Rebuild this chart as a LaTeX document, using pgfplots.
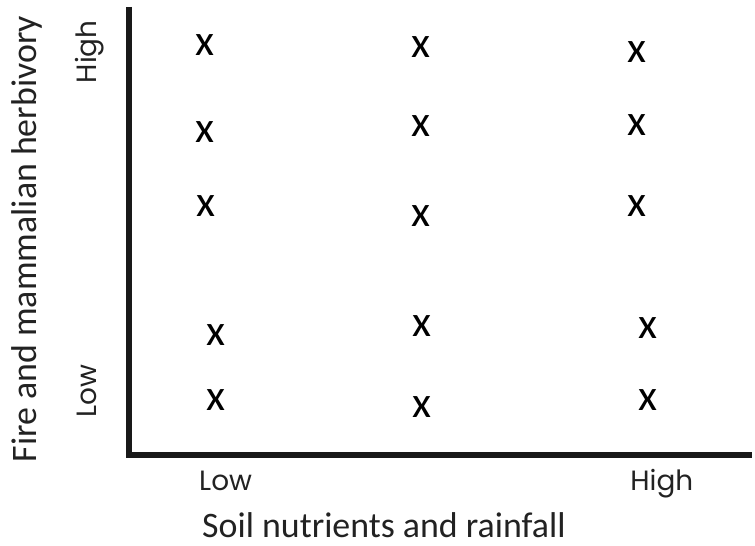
\documentclass[border=0pt]{standalone}
\usepackage{pgfplots}
\pgfplotsset{compat=1.18}
\usepackage{fontspec}
\setmainfont{Carlito}
\newfontfamily\tickfont{Poppins}
\definecolor{ink}{RGB}{34,34,34}

\begin{document}
\begin{tikzpicture}
\begin{axis}[
    scale only axis,
    width=625pt, height=449.5pt,
    xmin=0, xmax=625, ymin=0, ymax=449.5,
    clip=false,
    axis line style={draw=none},
    major tick length=0pt,
    xtick={96.5,534.5}, xticklabels={Low,High},
    ytick={63.5,404.5}, yticklabels={Low,High},
    xticklabel style={font=\tickfont\fontsize{28}{30}\selectfont, text=ink, anchor=base, yshift=-36pt},
    yticklabel style={font=\tickfont\fontsize{28}{30}\selectfont, text=ink, xshift=-33pt, rotate=90, anchor=base},
    xlabel={Soil nutrients and rainfall},
    ylabel={Fire and mammalian herbivory},
    xlabel style={font=\fontsize{36}{40}\selectfont, text=ink, inner sep=0pt, at={(axis description cs:0.4088,-0.1858)}, anchor=base},
    ylabel style={font=\fontsize{36}{40}\selectfont, text=ink, inner sep=0pt, at={(axis description cs:-0.150,0.4816)}, anchor=base},
]
% page frame of the reference
\path (axis cs:-130,-91.5) rectangle (axis cs:625,456.5);
% the L shaped axes
\draw[line width=6pt, black!90] (axis cs:0,449.5) -- (axis cs:0,0) -- (axis cs:625,0);

\addplot[only marks, mark=text, text mark={\fontsize{44}{44}\selectfont x}, ink]
    coordinates {
    (76,411.5) (76,323.5) (76.7,249.5) (87,120.5) (87,54.5)
    (293,409.5) (293,329.5) (293,239.5) (294,129.5) (294,47.5)
    (510,404.5) (510,330.5) (510,249.5) (521,127.5) (521,54.5)
    };
\end{axis}
\end{tikzpicture}
\end{document}
